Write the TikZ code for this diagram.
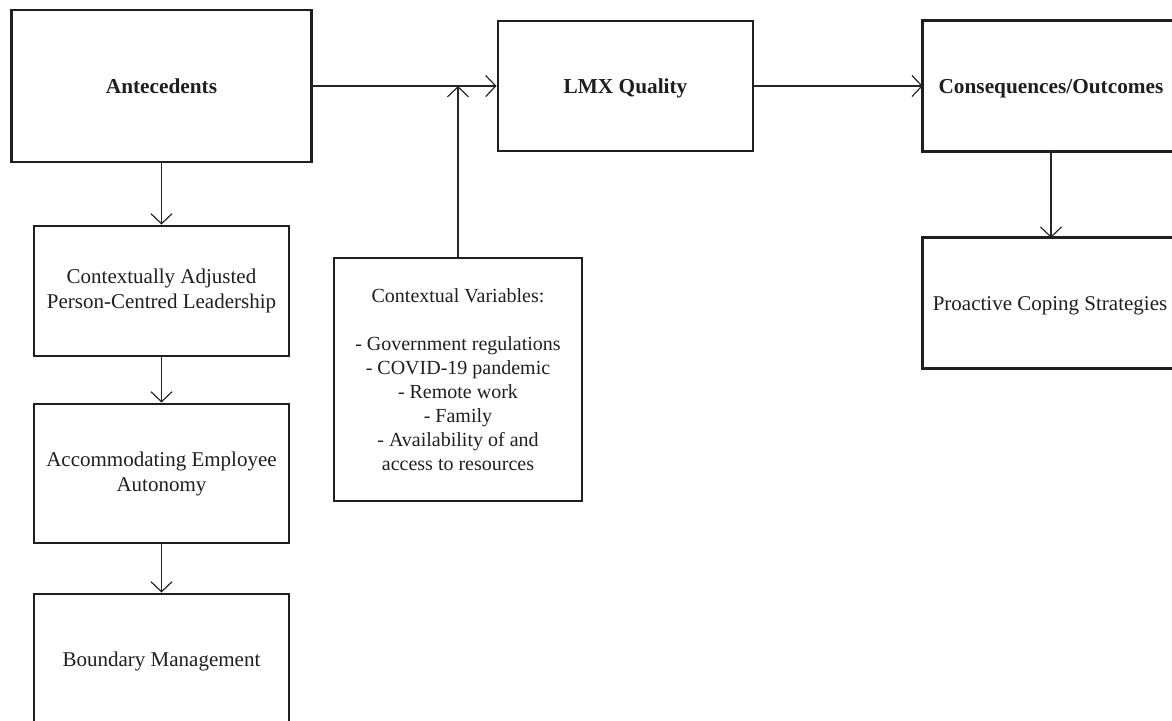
\documentclass[tikz,border=0pt]{standalone}
\usepackage{fontspec}
\setmainfont{Liberation Serif}
\usetikzlibrary{arrows.meta}
\begin{document}
\begin{tikzpicture}[x=1pt,y=-1pt,
  box/.style={draw=black!88, line width=2.9pt, rectangle, inner sep=0pt, align=center,
    font=\fontsize{21}{25}\selectfont, text=black!88},
  bbox/.style={box, font=\fontsize{21.3}{25}\selectfont\bfseries},
  oneline/.style={text height=16pt, text depth=2pt},
  conn/.style={draw=black!85, line width=1.2pt, -{Straight Barb[length=10pt,width=21pt,line width=1.2pt]}}
]
\useasboundingbox (0,0) rectangle (1172,720);
\fill[white] (0,0) rectangle (1172,720);

\node[bbox, oneline, minimum width=300pt, minimum height=152pt] (ant) at (161.5,86) {Antecedents};
\node[bbox, oneline, minimum width=255pt, minimum height=130pt] (lmx) at (625.5,86) {LMX Quality};
\node[draw=none, minimum width=256pt, minimum height=130pt, inner sep=0pt] (consbg) at (1051,86) {};
\draw[draw=black!88, line width=2.9pt] (consbg.north east) -- (consbg.north west) -- (consbg.south west) -- (consbg.south east);
\node[oneline, font=\fontsize{21.3}{25}\selectfont\bfseries, text=black!88] (cons) at (1051,86) {Consequences/Outcomes};

\node[box, minimum width=255pt, minimum height=130pt] (car) at (161.5,291) {Contextually Adjusted\\Person-Centred Leadership};
\node[box, minimum width=255pt, minimum height=139pt] (aea) at (161.5,473.5) {Accommodating Employee\\Autonomy};
\node[box, oneline, minimum width=255pt, minimum height=130pt] (bm) at (161.5,659) {Boundary Management};

\node[box, font=\fontsize{20}{24}\selectfont, minimum width=248pt, minimum height=243pt] (cv) at (458,379.5) {Contextual Variables:\\[24pt]- Government regulations\\- COVID-19 pandemic\\- Remote work\\- Family\\- Availability of and\\access to resources};

\node[draw=none, minimum width=254pt, minimum height=130pt, inner sep=0pt] (pcsbg) at (1050,303) {};
\draw[draw=black!88, line width=2.9pt] (pcsbg.north east) -- (pcsbg.north west) -- (pcsbg.south west) -- (pcsbg.south east);
\node[oneline, font=\fontsize{21}{25}\selectfont, text=black!88] (pcs) at (1050,303) {Proactive Coping Strategies};

\draw[conn] (ant.east) -- (lmx.west);
\draw[conn] (cv.north) -- (cv.north |- ant.east);
\draw[conn] (lmx.east) -- (consbg.west);
\draw[conn] (consbg.south -| cons) -- (pcsbg.north -| cons);
\draw[conn] (ant.south) -- (car.north);
\draw[conn] (car.south) -- (aea.north);
\draw[conn] (aea.south) -- (bm.north);
\end{tikzpicture}
\end{document}
